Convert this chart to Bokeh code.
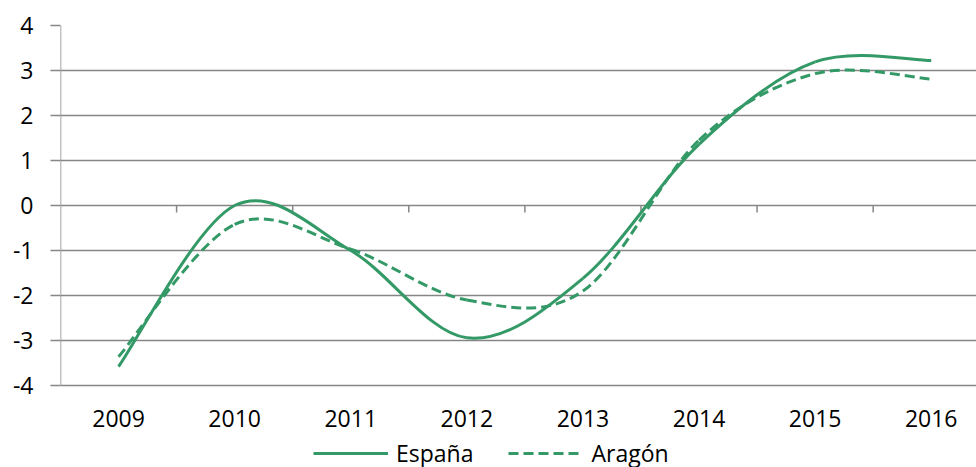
from bokeh.plotting import figure
from bokeh.models import Range1d, Legend, LegendItem, ColumnDataSource
from bokeh.core.properties import value
from bokeh.embed import file_html
from bokeh.resources import INLINE

years = ["2009", "2010", "2011", "2012", "2013", "2014", "2015", "2016"]
espana = [-3.58, 0.0, -1.0, -2.94, -1.62, 1.36, 3.19, 3.22]
aragon = [-3.36, -0.42, -0.97, -2.10, -1.90, 1.45, 2.93, 2.81]
y_ticks = [-4, -3, -2, -1, 0, 1, 2, 3, 4]
y_labels = ["-4", "-3", "-2", "-1", "0", "1", "2", "3", "4"]

GREEN = "#339966"
GRID = "#868686"
FONT = "Open Sans"
FS = "23px"

Y_MIN, Y_MAX = min(y_ticks), max(y_ticks)
LABEL_Y = Y_MIN - 0.733          # category labels, below the plot area
Y_BOTTOM = Y_MAX - 442 / 45      # frame extends down to hold labels/legend


def smooth_segments(vals):
    """Bezier segments through the data points (Excel-style smoothed line)."""
    n = len(vals)
    xs = list(range(n))
    d = dict(x0=[], y0=[], x1=[], y1=[], cx0=[], cy0=[], cx1=[], cy1=[])
    for i in range(n - 1):
        ip = max(i - 1, 0)
        inn = min(i + 2, n - 1)
        d["x0"].append(xs[i]); d["y0"].append(vals[i])
        d["x1"].append(xs[i + 1]); d["y1"].append(vals[i + 1])
        d["cx0"].append(xs[i] + (xs[i + 1] - xs[ip]) / 6)
        d["cy0"].append(vals[i] + (vals[i + 1] - vals[ip]) / 6)
        d["cx1"].append(xs[i + 1] - (xs[inn] - xs[i]) / 6)
        d["cy1"].append(vals[i + 1] - (vals[inn] - vals[i]) / 6)
    return ColumnDataSource(d)


p = figure(width=976, height=467, output_backend="svg", toolbar_location=None,
           x_range=Range1d(-0.5, 7.39), y_range=Range1d(Y_BOTTOM, Y_MAX),
           x_axis_location=None,
           min_border_left=60, min_border_right=0, min_border_top=25,
           min_border_bottom=0)
p.outline_line_color = None
p.background_fill_color = "white"
p.border_fill_color = "white"

# grid
p.xgrid.grid_line_color = None
p.ygrid.ticker = y_ticks
p.ygrid.grid_line_color = GRID
p.ygrid.grid_line_width = 1.5

# y axis (line drawn only over the value range)
p.yaxis.ticker = y_ticks
p.yaxis.major_label_overrides = {t: s for t, s in zip(y_ticks, y_labels)}
p.yaxis.axis_line_color = None
p.yaxis.major_tick_line_color = GRID
p.yaxis.major_tick_line_width = 1.5
p.yaxis.major_tick_out = 10
p.yaxis.major_tick_in = 0
p.yaxis.minor_tick_line_color = None
p.yaxis.major_label_standoff = 17
p.yaxis.major_label_text_font = FONT
p.yaxis.major_label_text_font_size = FS
p.yaxis.major_label_text_color = "black"
p.segment(x0=[-0.5], y0=[Y_MIN], x1=[-0.5], y1=[Y_MAX],
          line_color=GRID, line_width=1.5)

# category-boundary tick marks on the zero line
bx = [i + 0.5 for i in range(len(years))]
p.segment(x0=bx, y0=[0] * len(bx), x1=bx, y1=[-0.155] * len(bx),
          line_color=GRID, line_width=1.5)

# category labels
p.text(x=list(range(len(years))), y=[LABEL_Y] * len(years), text=years,
       text_align="center", text_baseline="middle",
       text_font=value(FONT), text_font_size=FS, text_color="black")

# series
r1 = p.bezier(x0="x0", y0="y0", x1="x1", y1="y1", cx0="cx0", cy0="cy0",
              cx1="cx1", cy1="cy1", source=smooth_segments(espana),
              line_color=GREEN, line_width=3)
r2 = p.bezier(x0="x0", y0="y0", x1="x1", y1="y1", cx0="cx0", cy0="cy0",
              cx1="cx1", cy1="cy1", source=smooth_segments(aragon),
              line_color=GREEN, line_width=3, line_dash="10 5")

legend = Legend(items=[LegendItem(label="España", renderers=[r1]),
                       LegendItem(label="Aragón", renderers=[r2])],
                orientation="horizontal", location=(253, -2),
                glyph_width=75, glyph_height=20, label_standoff=8,
                spacing=35, padding=0, margin=0,
                border_line_color=None, background_fill_alpha=0,
                label_text_font=FONT, label_text_font_size=FS,
                label_text_color="black")
p.add_layout(legend, "center")

open("out.html", "w").write(file_html(p, INLINE))
